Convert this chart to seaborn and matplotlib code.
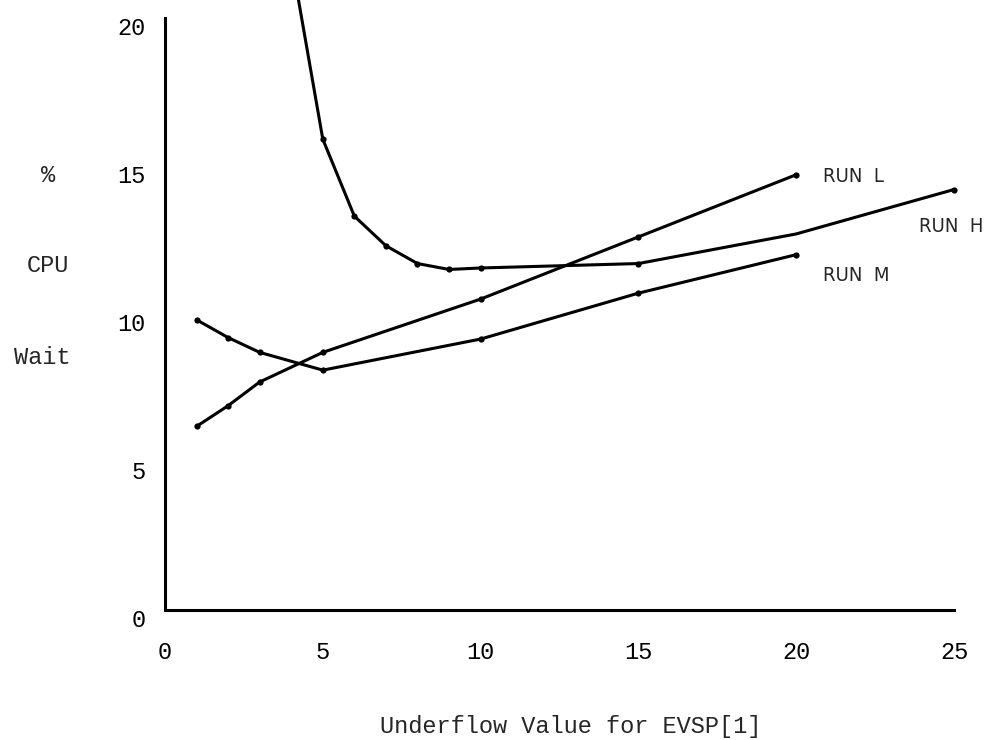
import matplotlib
matplotlib.use('Agg')
import matplotlib.pyplot as plt
import matplotlib.transforms as mtransforms
import seaborn as sns

# values
run_l_x = [1, 2, 3, 5, 10, 15, 20]
run_l_y = [6.2, 6.9, 7.7, 8.7, 10.5, 12.6, 14.7]

run_m_x = [1, 2, 3, 5, 10, 15, 20]
run_m_y = [9.8, 9.2, 8.7, 8.1, 9.15, 10.7, 12.0]

# x=20 on RUN H is a bend of the drawn curve, it has no dot
run_h_x = [4, 5, 6, 7, 8, 9, 10, 15, 20, 25]
run_h_y = [22.0, 15.9, 13.3, 12.3, 11.7, 11.5, 11.55, 11.7, 12.7, 14.2]
run_h_dots = [0, 1, 2, 3, 4, 5, 6, 7, 9]

x_ticks = [0, 5, 10, 15, 20, 25]
y_ticks = [0, 5, 10, 15, 20]

run_names = ['RUN  L', 'RUN  H', 'RUN  M']
run_label_x = [20.85, 23.9, 20.85]
run_label_y = [14.63, 12.94, 11.28]

sns.set_style('white')
plt.rcParams['font.family'] = ['Liberation Mono', 'DejaVu Sans Mono']

fig = plt.figure(figsize=(9.9, 7.4), dpi=100)
ax = fig.add_axes([165 / 990, 130 / 740, 825 / 990, 610 / 740])

line_kw = dict(color='black', linewidth=2.2, marker='o', markersize=4.5,
               markeredgewidth=0, ax=ax)
sns.lineplot(x=run_l_x, y=run_l_y, **line_kw)
sns.lineplot(x=run_m_x, y=run_m_y, **line_kw)
sns.lineplot(x=run_h_x, y=run_h_y, markevery=run_h_dots, **line_kw)

ax.set_xlim(0, 26.14)
ax.set_ylim(0, 20.6)
for side in ['top', 'right']:
    ax.spines[side].set_visible(False)
ax.spines['left'].set_bounds(0, 20)
ax.spines['bottom'].set_bounds(0, 25)
for side in ['left', 'bottom']:
    ax.spines[side].set_linewidth(2.2)
    ax.spines[side].set_color('black')

ax.set_xticks(x_ticks)
ax.set_yticks(y_ticks)
ax.set_xticklabels([str(v) for v in x_ticks])
ax.set_yticklabels([str(v) for v in y_ticks])
# end caps of the axes
ax.set_xticks([25], minor=True)
ax.set_yticks([20], minor=True)
ax.tick_params(which='major', direction='in', length=6, width=1.5,
               labelsize=17, colors='black')
ax.tick_params(axis='x', which='major', pad=22)
ax.tick_params(axis='y', which='major', pad=14)
ax.tick_params(which='minor', direction='out', length=6, width=1.5)

# the y labels sit a little below their ticks in the scan
shift = mtransforms.ScaledTranslation(0, -8 / 100, fig.dpi_scale_trans)
for lbl in ax.get_yticklabels():
    lbl.set_transform(lbl.get_transform() + shift)

for name, tx, ty in zip(run_names, run_label_x, run_label_y):
    ax.text(tx, ty, name, fontsize=14.5, va='center', ha='left',
            family=['DejaVu Sans'], fontstretch='condensed', clip_on=False)

fig.text(48 / 990, 1 - 175 / 740, '%', fontsize=17, ha='center', va='center')
fig.text(48 / 990, 1 - 265 / 740, 'CPU', fontsize=17, ha='center', va='center')
fig.text(42 / 990, 1 - 358 / 740, 'Wait', fontsize=17, ha='center', va='center')

fig.text(571 / 990, 1 - 727 / 740, 'Underflow Value for EVSP[1]', fontsize=17,
         ha='center', va='center')

fig.savefig('out.png', dpi=100)
